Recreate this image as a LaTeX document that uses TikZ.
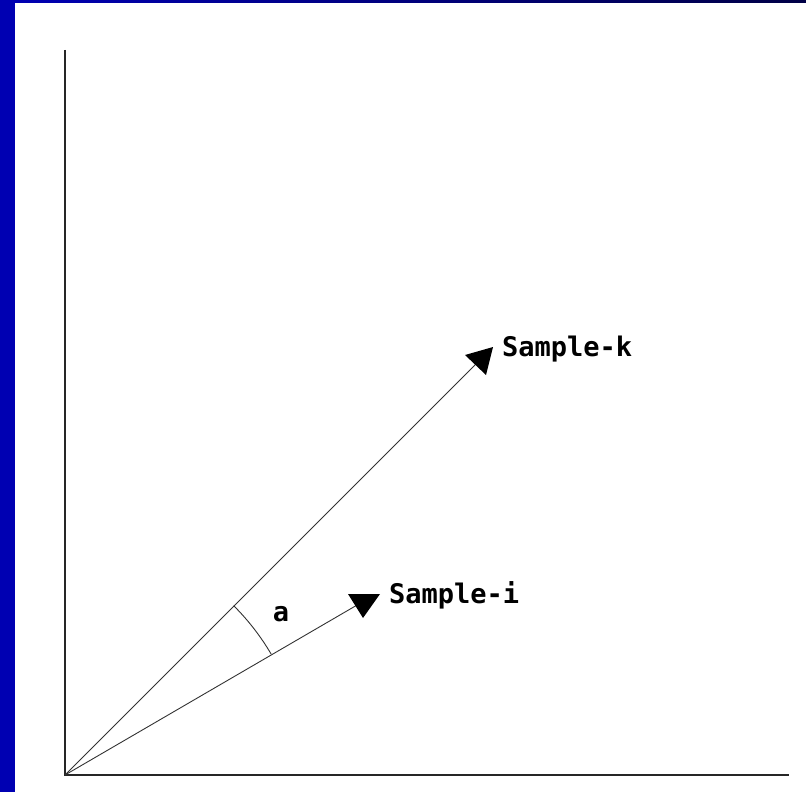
\documentclass[tikz,border=0pt]{standalone}
\usepackage{fontspec}
\newfontfamily\monofont{DejaVu Sans Mono}
\begin{document}
\begin{tikzpicture}[x=1pt,y=-1pt,
  axis/.style={line width=2pt,draw=black!85},
  vec/.style={line width=0.9pt,draw=black!80},
  head/.style={fill=black},
  lblfont/.style={font=\monofont\bfseries\fontsize{27}{30}\selectfont,inner sep=0pt},
  lbl/.style={lblfont,anchor=base west}]
\definecolor{barblue}{RGB}{0,0,178}
\definecolor{navy}{RGB}{0,0,70}
\useasboundingbox (0,0) rectangle (806,792);
\fill[white] (0,0) rectangle (806,792);
\fill[barblue] (0,0) rectangle (15,792);
\shade[left color=barblue,right color=navy] (15,0) rectangle (806,3);
% axes
\coordinate (O) at (65,775);
\coordinate (ytop) at (65,50);
\coordinate (xend) at (789,775);
\draw[axis] (ytop) -- (O) -- (xend);
% vectors
\coordinate (k) at (481,359);
\coordinate (i) at (364,601);
\draw[vec] (O) -- (k);
\draw[vec] (O) -- (i);
\fill[head] (465,355) -- (493,347) -- (486,375) -- cycle;
\fill[head] (348,594) -- (380,594) -- (363,618) -- cycle;
\node[lbl] (lk) at (502,356) {Sample-k};
\node[lbl] (li) at (389,603) {Sample-i};
% angle arc
\draw[vec] (O) ++(45.1:239 and -239) arc[start angle=-45.1,end angle=-30.4,radius=239];
\node[lblfont] (a) at (281,614) {a};
\end{tikzpicture}
\end{document}
